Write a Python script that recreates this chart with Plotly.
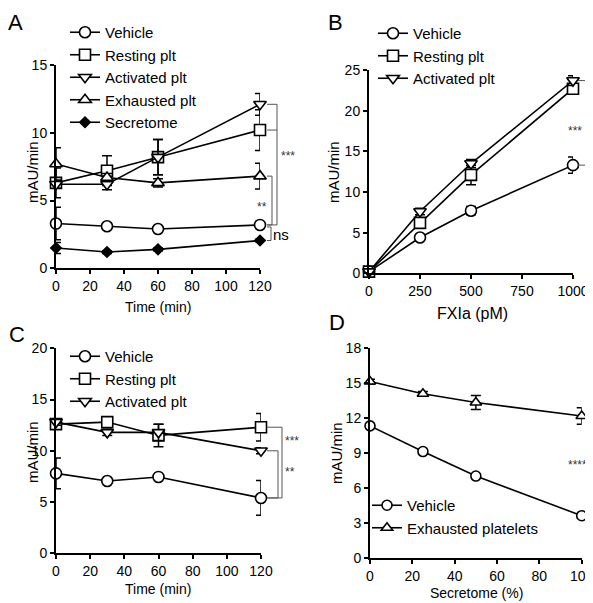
import plotly.graph_objects as go

# page is rendered with an 8px body margin: compensate
OFF = 8
W, H = 593 - OFF, 603 - OFF
FONT = "Liberation Sans, Arial, sans-serif"

# ---------------- data ----------------
time_A = [0, 30, 60, 120]
vehicle_A = [3.3, 3.1, 2.9, 3.2]
vehicle_A_err = [1.2, 0.2, 0.2, 0.25]
resting_A = [6.3, 7.2, 8.2, 10.2]
resting_A_err = [1.1, 1.1, 1.3, 1.5]
activated_A = [6.2, 6.2, 8.2, 12.1]
activated_A_err = [0.3, 0.4, 1.3, 0.8]
exhausted_A = [7.7, 6.7, 6.3, 6.8]
exhausted_A_err = [1.2, 0.3, 0.3, 0.95]
secretome_A = [1.5, 1.2, 1.4, 2.05]
secretome_A_err = [0.4, 0.1, 0.1, 0.1]

fxia_B = [0, 250, 500, 1000]
vehicle_B = [0.2, 4.4, 7.7, 13.3]
vehicle_B_err = [0.1, 0.3, 0.5, 1.0]
resting_B = [0.2, 6.2, 12.1, 22.7]
resting_B_err = [0.1, 0.5, 1.2, 0.6]
activated_B = [0.2, 7.6, 13.5, 23.7]
activated_B_err = [0.1, 0.4, 0.5, 0.6]

time_C = [0, 30, 60, 120]
vehicle_C = [7.8, 7.05, 7.45, 5.4]
vehicle_C_err = [1.5, 0.2, 0.2, 1.7]
resting_C = [12.6, 12.8, 11.5, 12.3]
resting_C_err = [0.4, 0.3, 1.1, 1.35]
activated_C = [12.8, 11.8, 11.8, 10.0]
activated_C_err = [0.3, 0.3, 0.8, 0.3]

secretome_D = [0, 25, 50, 100]
vehicle_D = [11.35, 9.15, 7.05, 3.65]
vehicle_D_err = [0.2, 0.2, 0.2, 0.2]
exhausted_D = [15.15, 14.1, 13.35, 12.2]
exhausted_D_err = [0.2, 0.2, 0.6, 0.7]

ticks_A_x = [0, 20, 40, 60, 80, 100, 120]
ticks_A_y = [0, 5, 10, 15]
ticks_B_x = [0, 250, 500, 750, 1000]
ticks_B_y = [0, 5, 10, 15, 20, 25]
ticks_C_x = [0, 20, 40, 60, 80, 100, 120]
ticks_C_y = [0, 5, 10, 15, 20]
ticks_D_x = [0, 20, 40, 60, 80, 100]
ticks_D_y = [0, 3, 6, 9, 12, 15, 18]

# ---------------- helpers ----------------
def px_x(p):
    return (p - OFF) / W

def px_y(p):
    return 1 - (p - OFF) / H

fig = go.Figure()

def add_series(x, y, err, name, ax, leg, symbol, size=11, fill="white"):
    fig.add_trace(go.Scatter(
        x=x, y=y, name=name, mode="lines+markers",
        xaxis="x" + ax, yaxis="y" + ax, legend=leg,
        line=dict(color="black", width=1.6),
        marker=dict(symbol=symbol, size=size, color=fill,
                    line=dict(color="black", width=1.6)),
        error_y=dict(type="data", array=err, color="black",
                     thickness=1.5, width=5),
        cliponaxis=False,
    ))

# Panel A
add_series(time_A, vehicle_A, vehicle_A_err, "Vehicle", "", "legend", "circle")
add_series(time_A, resting_A, resting_A_err, "Resting plt", "", "legend", "square")
add_series(time_A, activated_A, activated_A_err, "Activated plt", "", "legend", "triangle-down")
add_series(time_A, exhausted_A, exhausted_A_err, "Exhausted plt", "", "legend", "triangle-up")
add_series(time_A, secretome_A, secretome_A_err, "Secretome", "", "legend", "diamond", size=8, fill="black")
# Panel B
add_series(fxia_B, vehicle_B, vehicle_B_err, "Vehicle", "2", "legend2", "circle")
add_series(fxia_B, resting_B, resting_B_err, "Resting plt", "2", "legend2", "square")
add_series(fxia_B, activated_B, activated_B_err, "Activated plt", "2", "legend2", "triangle-down")
# Panel C
add_series(time_C, vehicle_C, vehicle_C_err, "Vehicle", "3", "legend3", "circle")
add_series(time_C, resting_C, resting_C_err, "Resting plt", "3", "legend3", "square")
add_series(time_C, activated_C, activated_C_err, "Activated plt", "3", "legend3", "triangle-down")
# Panel D
add_series(secretome_D, vehicle_D, vehicle_D_err, "Vehicle", "4", "legend4", "circle", size=10)
add_series(secretome_D, exhausted_D, exhausted_D_err, "Exhausted platelets", "4", "legend4", "triangle-up", size=10)

def axis(domain_px, horizontal, rng, ticks, anchor):
    if horizontal:
        dom = [px_x(domain_px[0]), px_x(domain_px[1])]
    else:
        dom = [px_y(domain_px[1]), px_y(domain_px[0])]
    return dict(domain=dom, range=rng, tickvals=ticks, showgrid=False, zeroline=False,
                showline=True, linecolor="black", linewidth=2, ticks="outside",
                ticklen=4, tickwidth=1.5, tickcolor="black", anchor=anchor,
                automargin=False, ticklabeloverflow="allow",
                tickfont=dict(family=FONT, size=14, color="black"), fixedrange=True)

layout = dict(
    template="none",
    width=W, height=H, margin=dict(l=0, r=0, t=0, b=0, pad=0, autoexpand=False),
    paper_bgcolor="white", plot_bgcolor="white",
    font=dict(family=FONT, size=14, color="black"),
    xaxis=axis([56, 260], True, [0, 120], ticks_A_x, "y"),
    yaxis=axis([65, 268.3], False, [0, 15], ticks_A_y, "x"),
    xaxis2=axis([369, 573], True, [0, 1000], ticks_B_x, "y2"),
    yaxis2=axis([70, 273.3], False, [0, 25], ticks_B_y, "x2"),
    xaxis3=axis([56, 261], True, [0, 120], ticks_C_x, "y3"),
    yaxis3=axis([348.3, 553.3], False, [0, 20], ticks_C_y, "x3"),
    xaxis4=axis([370, 581.7], True, [0, 100], ticks_D_x, "y4"),
    yaxis4=axis([348.3, 558.3], False, [0, 18], ticks_D_y, "x4"),
)

def legend(xp, yp):
    return dict(x=px_x(xp), y=px_y(yp), xanchor="left", yanchor="top",
                bgcolor="rgba(0,0,0,0)", borderwidth=0,
                font=dict(family=FONT, size=15, color="black"),
                itemwidth=30, tracegroupgap=0)

layout["legend"] = legend(65, 16)
layout["legend2"] = legend(373, 17)
layout["legend3"] = legend(65, 340)
layout["legend4"] = legend(367, 489)
layout["showlegend"] = True

fig.update_layout(**layout)

# text annotations
def text(x, y, s, size=14, angle=0):
    fig.add_annotation(x=px_x(x), y=px_y(y), xref="paper", yref="paper", text=s,
                       showarrow=False, textangle=angle,
                       font=dict(family=FONT, size=size, color="black"),
                       xanchor="center", yanchor="middle")

text(15, 22, "A", 22)
text(335, 22, "B", 22)
text(17, 334, "C", 22)
text(337, 322, "D", 22)
text(32, 172, "mAU/min", 15, -90)
text(333, 172, "mAU/min", 15, -90)
text(32, 452, "mAU/min", 15, -90)
text(336, 453, "mAU/min", 15, -90)
text(158, 307, "Time (min)")
text(472, 313, "FXIa (pM)", 16)
text(158, 589, "Time (min)")
text(476, 593, "Secretome (%)")

# significance brackets (y tied to data)
BR = dict(color="#555555", width=1)

def bracket(x0, x1, yref, ys):
    ys = list(ys)
    top, bot = max(ys), min(ys)
    fig.add_shape(type="line", xref="paper", yref=yref, x0=px_x(x1), x1=px_x(x1),
                  y0=bot, y1=top, line=BR)
    for v in ys:
        fig.add_shape(type="line", xref="paper", yref=yref, x0=px_x(x0), x1=px_x(x1),
                      y0=v, y1=v, line=BR)

bracket(267, 277, "y", [activated_A[-1], resting_A[-1], vehicle_A[-1]])
bracket(267, 272, "y", [exhausted_A[-1], vehicle_A[-1]])
bracket(267, 271, "y", [vehicle_A[-1] - 0.15, secretome_A[-1]])
bracket(578, 587, "y2", [activated_B[-1], vehicle_B[-1]])
bracket(267, 282, "y3", [resting_C[-1], vehicle_C[-1]])
bracket(267, 278, "y3", [activated_C[-1], vehicle_C[-1]])
for v in (exhausted_D[-1], vehicle_D[-1]):
    fig.add_shape(type="line", xref="paper", yref="y4", x0=px_x(588), x1=px_x(597),
                  y0=v, y1=v, line=BR)

def stars(x, y, s, size=12):
    fig.add_annotation(x=px_x(x), y=px_y(y), xref="paper", yref="paper", text=s,
                       showarrow=False, font=dict(family=FONT, size=size, color="#333333"),
                       xanchor="center", yanchor="middle")

stars(288, 156, "***")
stars(262, 207, "**")
text(281, 234, "ns", 15)
stars(575, 131, "***")
stars(292, 441, "***")
stars(290, 472, "**")
stars(577, 465, "****")

fig.write_html("out.html")
